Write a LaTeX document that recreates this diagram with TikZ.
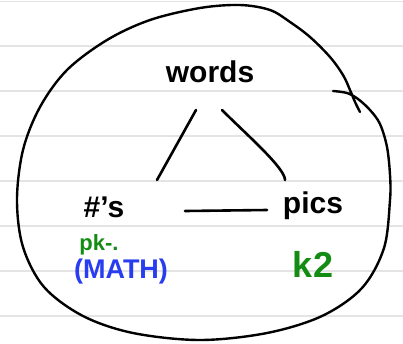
\documentclass[tikz,border=0pt]{standalone}
\usepackage{fontspec}
\setmainfont{Liberation Sans}
\definecolor{rule}{RGB}{228,228,228}
\definecolor{ink}{RGB}{0,0,0}
\definecolor{penGreen}{RGB}{20,140,20}
\definecolor{penBlue}{RGB}{40,60,240}
\tikzset{
  ink/.style={line width=2.6pt, line cap=round, line join=round, draw=ink},
  label/.style={inner sep=1pt, font=\fontsize{30}{32}\selectfont\bfseries},
  note/.style={inner sep=1pt, font=\fontsize{22}{24}\selectfont\bfseries},
}
\begin{document}
\begin{tikzpicture}[x=1pt,y=-1pt]
\useasboundingbox (0,0) rectangle (403,343);
\fill[white] (0,0) rectangle (403,343);
% ruled lines
\foreach \yy in {1.5,46,91,136,181,226,271,316}
  \draw[rule, line width=1.6pt] (0,\yy) -- (403,\yy);
% enclosing loop (one stroke, starting with the small hook)
\draw[ink, line width=2.4pt] plot[smooth, tension=0.55] coordinates {
 (333,91) (347,93) (358,99) (370,110) (380,124) (387,147) (390,175) (390,200) (384,248)
 (362,288) (322,316) (267,333)
 (200,340) (133,333) (83,316) (44,287) (23,247) (17,200) (23,150) (40,107) (67,70)
 (107,40) (150,20) (200,8) (240,5) (270,10) (290,22) (310,37) (330,57) (343,75) (350,90) (355,102) (360,112)};
% nodes
\node[label] (words) at (210,72) {words};
\node[label] (nums) at (104,207) {\#'s};
\node[label] (pics) at (313,206) {pics};
\node[note, text=penGreen] (pk) at (99,245) {pk-.};
\node[note, text=penBlue, font=\fontsize{27}{29}\selectfont\bfseries] (math) at (121,272) {(MATH)};
\node[note, text=penGreen, font=\fontsize{36}{38}\selectfont\bfseries] (k2) at (313,264) {k2};
% connectors
\draw[ink] ([shift={(-14,38)}]words.center) -- ([shift={(53,-27)}]nums.center);
\draw[ink] ([shift={(12,38)}]words.center) .. controls +(25,25) and +(0,-12) .. ([shift={(-28,-26)}]pics.center);
\draw[ink] ([shift={(81,4)}]nums.center) -- ([shift={(-46,4)}]pics.center);
\end{tikzpicture}
\end{document}
